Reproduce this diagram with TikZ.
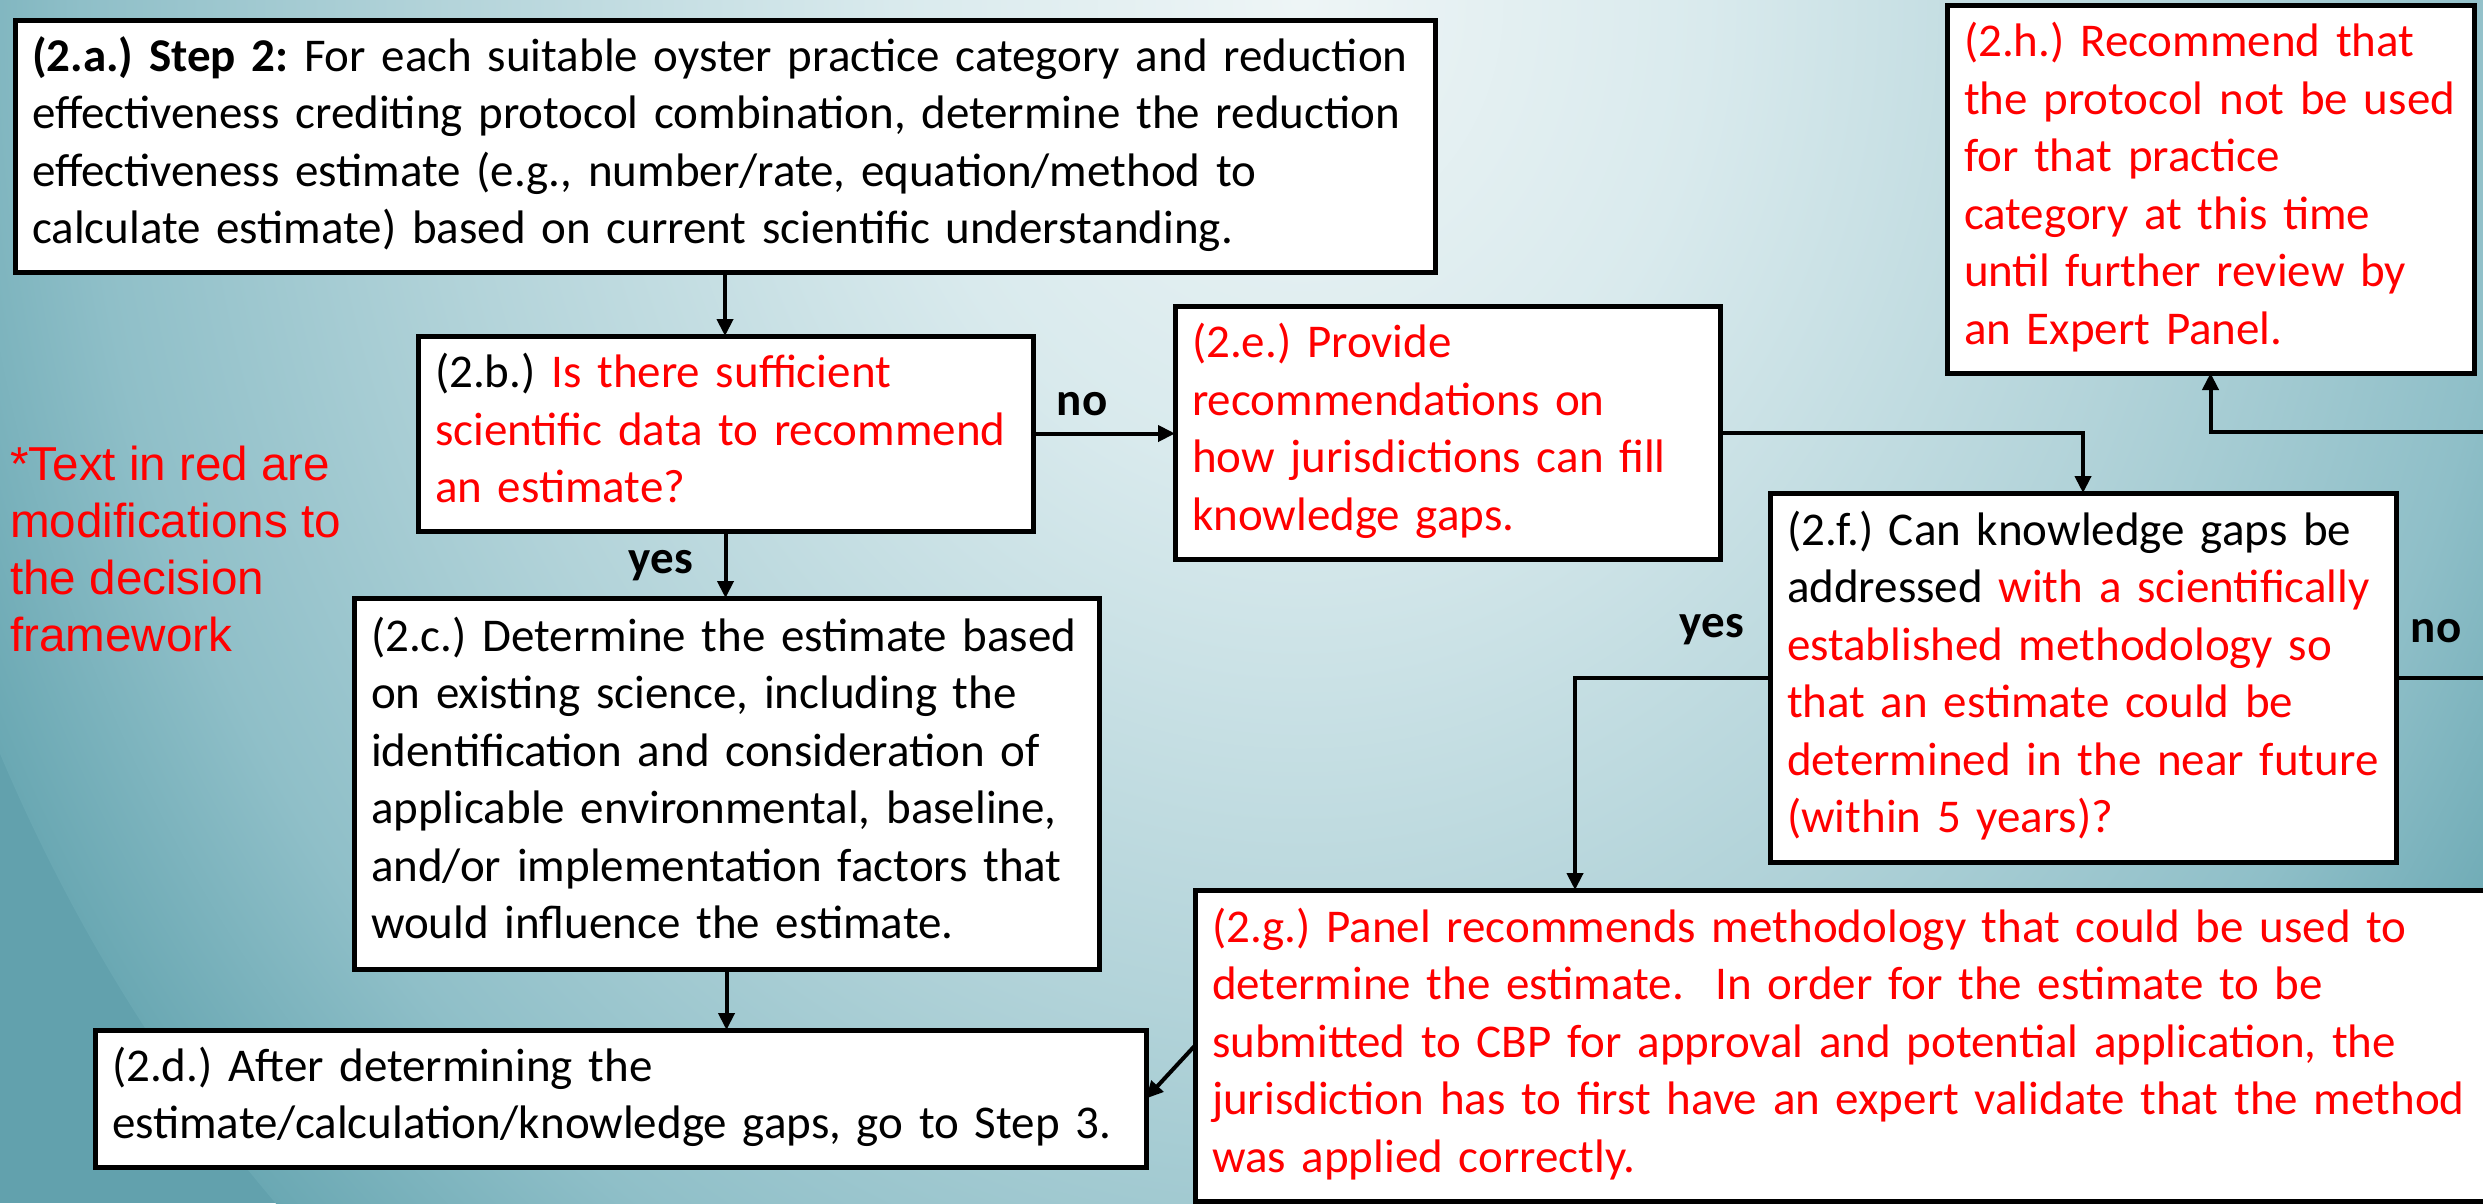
\documentclass[tikz,border=0pt]{standalone}
\usepackage{fontspec}
\setmainfont{Carlito}
\newfontfamily\notefont{Liberation Sans}
\usetikzlibrary{arrows.meta,calc}
\frenchspacing

\definecolor{txtred}{HTML}{FF0000}
\definecolor{bgzero}{HTML}{EEF5F6}
\definecolor{bgone}{HTML}{D9EAED}
\definecolor{bgtwo}{HTML}{B2D3D9}
\definecolor{bgthree}{HTML}{8FBFC8}
\definecolor{bgfour}{HTML}{6AA8B3}
\definecolor{bgout}{HTML}{62A1AD}

% soft glow behind the flow chart
\pgfdeclareradialshading{bgglow}{\pgfpoint{0bp}{0bp}}{%
  color(0bp)=(bgzero); color(7bp)=(bgone); color(15bp)=(bgtwo);
  color(21bp)=(bgthree); color(25bp)=(bgfour); color(50bp)=(bgfour)}

% left-aligned block of explicit lines
\newcommand{\boxlines}[1]{\begin{tabular}{@{}l@{}}#1\end{tabular}}
\newcommand{\rd}[1]{\textcolor{txtred}{#1}}

\begin{document}
\begin{tikzpicture}[x=1pt,y=-1pt,
  stepbox/.style={draw=black, line width=5pt, fill=white, outer sep=0pt,
    inner xsep=17pt, inner ysep=0pt, anchor=north west, align=left,
    font=\fontsize{47}{57.5}\selectfont},
  conn/.style={line width=4pt, -{Triangle[length=17pt,width=16pt]}},
  answer/.style={font=\fontsize{47}{57.5}\selectfont\bfseries, inner sep=0pt},
]
\useasboundingbox (0,0) rectangle (2483,1203);

% background
\begin{scope}
  \clip (0,0) rectangle (2483,1203);
  \fill[bgout] (0,0) rectangle (2483,1203);
  \shade[shading=bgglow] (1300,0) ellipse [x radius=1450pt, y radius=1700pt];
\end{scope}

\begin{scope}
\clip (0,0) rectangle (2483,1203);

% boxes
\node[stepbox, minimum height=252pt, text width=1386pt] (a) at (15,20) {\boxlines{%
  \textbf{(2.a.) Step 2:} For each suitable oyster practice category and reduction\\
  effectiveness crediting protocol combination, determine the reduction\\
  effectiveness estimate (e.g., number/rate, equation/method to\\
  calculate estimate) based on current scientific understanding.}};

\node[stepbox, minimum height=195pt, text width=581pt] (b) at (418,336) {\boxlines{%
  (2.b.) \rd{Is there sufficient}\\
  \rd{scientific data to recommend}\\
  \rd{an estimate?}}};

\node[stepbox, minimum height=371pt, text width=711pt] (c) at (354,598) {\boxlines{%
  (2.c.) Determine the estimate based\\
  on existing science, including the\\
  identification and consideration of\\
  applicable environmental, baseline,\\
  and/or implementation factors that\\
  would influence the estimate.}};

\node[stepbox, minimum height=137pt, text width=1017pt] (d) at (95,1030) {\boxlines{%
  (2.d.) After determining the\\
  estimate/calculation/knowledge gaps, go to Step 3.}};

\node[stepbox, minimum height=253pt, text width=511pt, text=txtred] (e) at (1175,306) {\boxlines{%
  (2.e.) Provide\\
  recommendations on\\
  how jurisdictions can fill\\
  knowledge gaps.}};

\node[stepbox, minimum height=369pt, text width=592pt] (f) at (1770,493) {\boxlines{%
  (2.f.) Can knowledge gaps be\\
  addressed \rd{with a scientifically}\\
  \rd{established methodology so}\\
  \rd{that an estimate could be}\\
  \rd{determined in the near future}\\
  \rd{(within 5 years)?}}};

\node[stepbox, minimum height=311pt, text width=1331pt, text=txtred] (g) at (1195,890) {\boxlines{%
  (2.g.) Panel recommends methodology that could be used to\\
  determine the estimate.\ \ In order for the estimate to be\\
  submitted to CBP for approval and potential application, the\\
  jurisdiction has to first have an expert validate that the method\\
  was applied correctly.}};

\node[stepbox, minimum height=368pt, text width=493pt, text=txtred] (h) at (1947,5) {\boxlines{%
  (2.h.) Recommend that\\
  the protocol not be used\\
  for that practice\\
  category at this time\\
  until further review by\\
  an Expert Panel.}};

% side note
\node[anchor=north west, inner sep=0pt, text=txtred,
      font=\notefont\fontsize{47.6}{57}\selectfont] (note) at (10,440) {\boxlines{%
  *Text in red are\\
  modifications to\\
  the decision\\
  framework}};

% branch labels
\node[answer] (yesb) at (661,566) {yes};
\node[answer] (nob) at (1082,404) {no};
\node[answer] (yesf) at (1712,630) {yes};
\node[answer] (nof) at (2436,631) {no};

% connectors
\coordinate (gin) at ($(g.north west)+(380,0)$);
\coordinate (loopr) at (2540,432);
\draw[conn] (a.south) -- (a.south |- b.north);
\draw[conn] (b.south) -- (b.south |- c.north);
\draw[conn] (c.south) -- (c.south |- d.north);
\draw[conn] (b.east) -- (b.east -| e.west);
\draw[conn] (e.east) -| (f.north);
\draw[conn] (f.west) -| (gin);
\draw[conn] (f.east) -| (loopr) -| (h.south);
\draw[conn] (g.west) -- (d.east);
\end{scope}
\end{tikzpicture}
\end{document}
